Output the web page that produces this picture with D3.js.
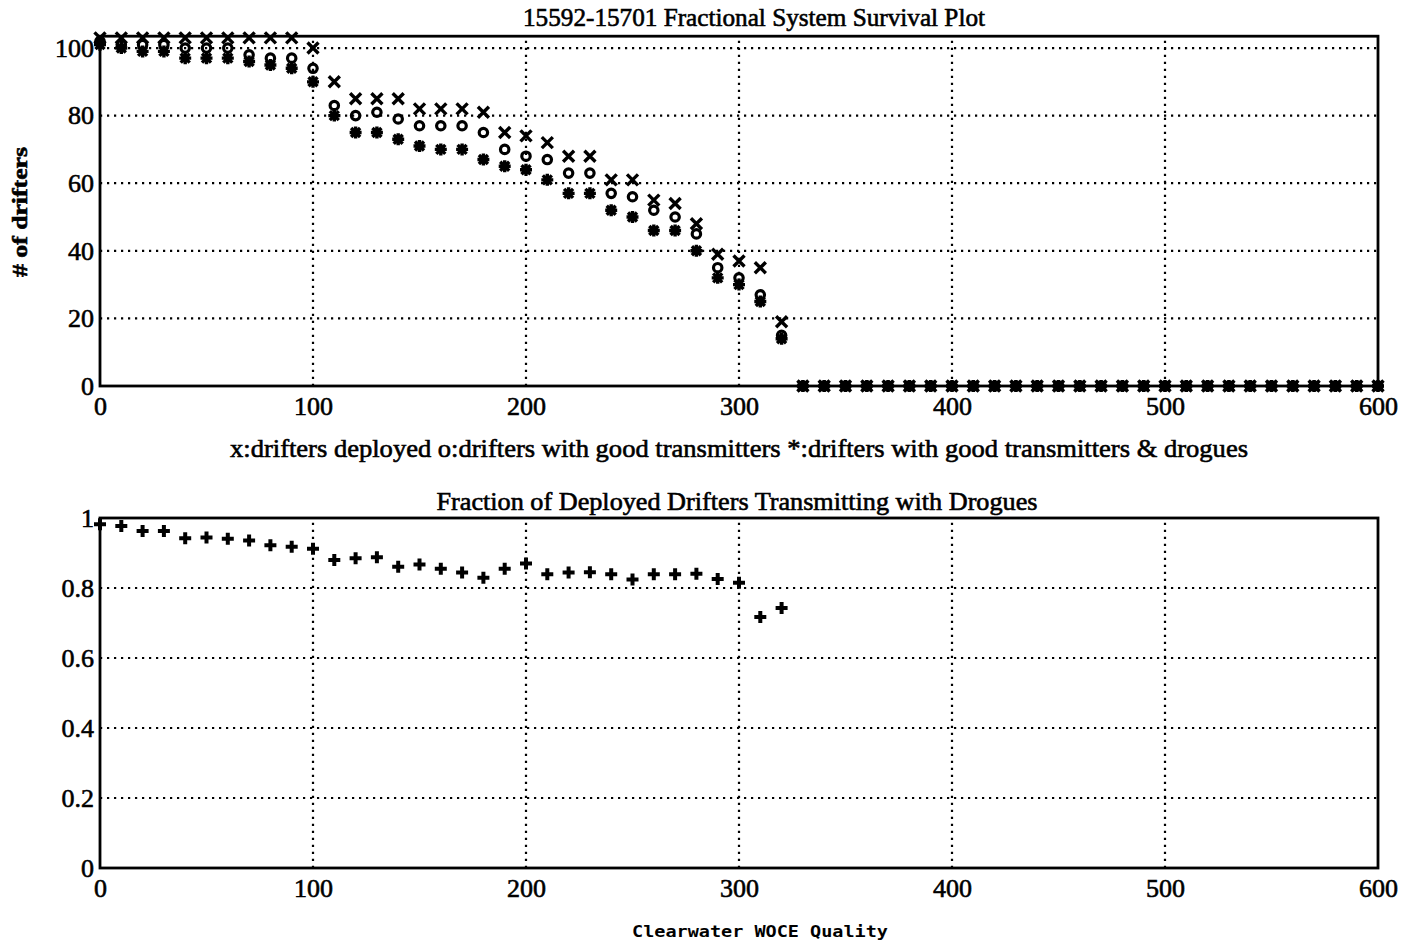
<!DOCTYPE html>
<html>
<head>
<meta charset="utf-8">
<script src="https://cdn.jsdelivr.net/npm/d3@7"></script>
<style>
  html, body { margin: 0; padding: 0; background: #fff; }
  svg { display: block; }
  .serif { font-family: "Liberation Serif", "DejaVu Serif", serif; fill: #000; stroke: #000; stroke-width: 0.6px; }
</style>
</head>
<body>
<svg id="chart" width="1411" height="944"></svg>
<script>
// Days since deployment at which survival was tallied (every 10 days up to 320)
const days = [0,10,20,30,40,50,60,70,80,90,100,110,120,130,140,150,160,170,180,190,200,210,220,230,240,250,260,270,280,290,300,310,320];
// Days past the end of the record, where every count is zero
const zeroDays = [330,340,350,360,370,380,390,400,410,420,430,440,450,460,470,480,490,500,510,520,530,540,550,560,570,580,590,600];

// x: drifters deployed
const deployed = [103,103,103,103,103,103,103,103,103,103,100,90,85,85,85,82,82,82,81,75,74,72,68,68,61,61,55,54,48,39,37,35,19];
// o: drifters with good transmitters
const goodTransmitters = [102,101,101,101,100,100,100,98,97,97,94,83,80,81,79,77,77,77,75,70,68,67,63,63,57,56,52,50,45,35,32,27,15];
// *: drifters with good transmitters & drogues
const withDrogues = [101,100,99,99,97,97,97,96,95,94,90,80,75,75,73,71,70,70,67,65,64,61,57,57,52,50,46,46,40,32,30,25,14];

// Fraction of deployed drifters transmitting with drogues
const fraction = [0.982,0.977,0.963,0.963,0.942,0.944,0.941,0.936,0.922,0.918,0.912,0.880,0.885,0.888,0.861,0.867,0.855,0.844,0.829,0.855,0.870,0.839,0.844,0.845,0.839,0.824,0.839,0.839,0.841,0.826,0.815,0.717,0.743];

// Tick values
const xTicks = [0,100,200,300,400,500,600];
const yTicksTop = [0,20,40,60,80,100];
const yTicksBottom = [0,0.2,0.4,0.6,0.8,1];
const yTickLabelsBottom = ["0","0.2","0.4","0.6","0.8","1"];

const svg = d3.select("#chart");

const x = d3.scaleLinear().domain([0, 600]).range([100, 1378]);
const yTop = d3.scaleLinear().domain([0, 103.5]).range([386, 36.2]);
const yBot = d3.scaleLinear().domain([0, 1]).range([868, 518]);

function panel(yScale, yTicks, yFmt) {
  const g = svg.append("g");
  const [y0, y1] = yScale.range();
  // dotted grid
  g.selectAll("line.gx").data(xTicks.slice(1, -1)).join("line")
    .attr("x1", d => x(d)).attr("x2", d => x(d))
    .attr("y1", y0).attr("y2", y1)
    .attr("stroke", "#000").attr("stroke-width", 2.2).attr("stroke-dasharray", "2.2 4.8");
  g.selectAll("line.gy").data(yTicks.slice(1)).join("line")
    .attr("x1", x(0)).attr("x2", x(600))
    .attr("y1", d => yScale(d)).attr("y2", d => yScale(d))
    .attr("stroke", "#000").attr("stroke-width", 2.2).attr("stroke-dasharray", "2.2 4.8");
  // frame
  g.append("rect")
    .attr("x", x(0)).attr("y", y1)
    .attr("width", x(600) - x(0)).attr("height", y0 - y1)
    .attr("fill", "none").attr("stroke", "#000").attr("stroke-width", 2.8);
  // axes
  const ax = g.append("g").attr("transform", `translate(0,${y0})`)
    .call(d3.axisBottom(x).tickValues(xTicks).tickSize(0).tickPadding(11).tickFormat(d3.format("d")));
  const ay = g.append("g").attr("transform", `translate(${x(0)},0)`)
    .call(d3.axisLeft(yScale).tickValues(yTicks).tickSize(0).tickPadding(6).tickFormat(yFmt));
  [ax, ay].forEach(a => {
    a.select(".domain").remove();
    a.selectAll("text").attr("class", "serif").style("font-size", "26px").attr("fill", "#000");
  });
  return g;
}

const gTop = panel(yTop, yTicksTop, d3.format("d"));
const gBot = panel(yBot, yTicksBottom, (d, i) => yTickLabelsBottom[i]);

// marker shapes
function drawCross(g, data, yScale, r) {
  g.selectAll(null).data(data).join("path")
    .attr("d", d => {
      const cx = x(d[0]), cy = yScale(d[1]);
      return `M${cx - r},${cy - r}L${cx + r},${cy + r}M${cx - r},${cy + r}L${cx + r},${cy - r}`;
    })
    .attr("stroke", "#000").attr("stroke-width", 3.4).attr("fill", "none");
}
function drawCircle(g, data, yScale, r) {
  g.selectAll(null).data(data).join("circle")
    .attr("cx", d => x(d[0])).attr("cy", d => yScale(d[1])).attr("r", r)
    .attr("stroke", "#000").attr("stroke-width", 3.2).attr("fill", "none");
}
function drawStar(g, data, yScale, r) {
  const a = r * 0.75;
  g.selectAll(null).data(data).join("path")
    .attr("d", d => {
      const cx = x(d[0]), cy = yScale(d[1]);
      return `M${cx - r},${cy}L${cx + r},${cy}M${cx},${cy - r}L${cx},${cy + r}` +
             `M${cx - a},${cy - a}L${cx + a},${cy + a}M${cx - a},${cy + a}L${cx + a},${cy - a}`;
    })
    .attr("stroke", "#000").attr("stroke-width", 3.4).attr("fill", "none");
}
function drawPlus(g, data, yScale, r) {
  g.selectAll(null).data(data).join("path")
    .attr("d", d => {
      const cx = x(d[0]), cy = yScale(d[1]);
      return `M${cx - r},${cy}L${cx + r},${cy}M${cx},${cy - r}L${cx},${cy + r}`;
    })
    .attr("stroke", "#000").attr("stroke-width", 4).attr("fill", "none");
}

// survival counts
const zeros = zeroDays.map(d => [d, 0]);
const gMarks = svg.append("g");
drawCross(gMarks, days.map((d, i) => [d, deployed[i]]).concat(zeros), yTop, 5.5);
drawCircle(gMarks, days.map((d, i) => [d, goodTransmitters[i]]).concat(zeros), yTop, 4.2);
drawStar(gMarks, days.map((d, i) => [d, withDrogues[i]]).concat(zeros), yTop, 6);

// fraction with drogues
drawPlus(svg.append("g"), days.map((d, i) => [d, fraction[i]]), yBot, 6);

// texts
function label(txt, cx, cy, size, len, extra) {
  const t = svg.append("text").attr("class", "serif")
    .attr("x", cx).attr("y", cy).attr("text-anchor", "middle")
    .style("font-size", size + "px").text(txt);
  if (len) t.attr("textLength", len).attr("lengthAdjust", "spacingAndGlyphs");
  if (extra) extra(t);
  return t;
}
label("15592-15701 Fractional System Survival Plot", 754, 26, 25, 462);
label("x:drifters deployed o:drifters with good transmitters *:drifters with good transmitters & drogues", 739, 457, 25, 1018);
label("Fraction of Deployed Drifters Transmitting with Drogues", 737, 510, 25, 601);
label("# of drifters", 0, 0, 21, 130, t => t.attr("transform", "translate(27,212) rotate(-90)").style("font-weight", "bold"));

svg.append("text")
  .attr("x", 760).attr("y", 937).attr("text-anchor", "middle")
  .style("font-family", "'DejaVu Sans Mono', 'Liberation Mono', monospace")
  .style("font-weight", "bold").style("font-size", "16px")
  .attr("textLength", 256).attr("lengthAdjust", "spacingAndGlyphs")
  .text("Clearwater WOCE Quality");
</script>
</body>
</html>
